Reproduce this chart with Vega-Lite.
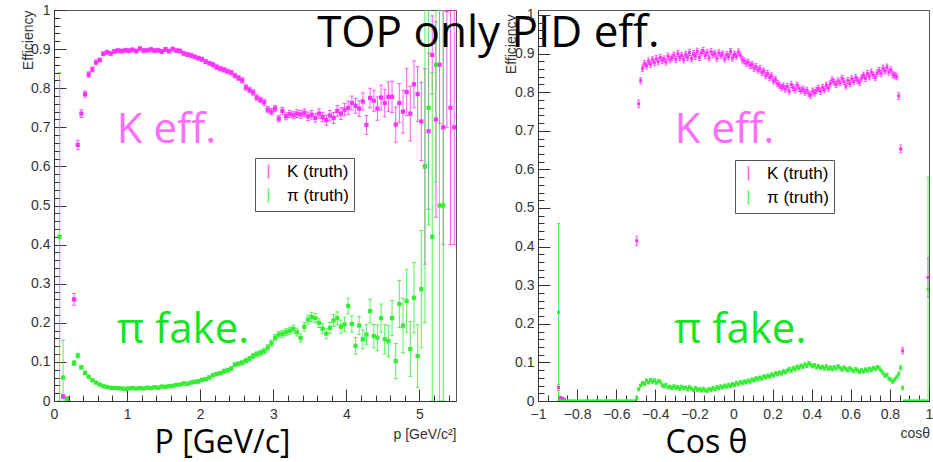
{
"$schema": "https://vega.github.io/schema/vega-lite/v6.json",
"background": "white",
"padding": {"left": 20, "top": 2, "right": 0, "bottom": 12},
"bounds": "flush",
"spacing": 82,
"config": {
  "view": {"stroke": "#555", "strokeWidth": 1},
  "axis": {"labelFont": "Liberation Sans", "labelFontSize": 14, "labelColor": "#333", "tickColor": "#333", "domainColor": "#333", "grid": false, "titleFontWeight": "normal", "titleColor": "#000", "labelFlush": false, "labelOverlap": false}
},
"datasets": {
"lk": [
{"x":0.125,"y":0.012,"e":0.005},{"x":0.175,"y":0.006,"e":0.004},{"x":0.275,"y":0.26,"e":0.015},{"x":0.325,"y":0.655,"e":0.012},{"x":0.375,"y":0.735,"e":0.01},{"x":0.425,"y":0.785,"e":0.008},{"x":0.475,"y":0.835,"e":0.007},{"x":0.525,"y":0.848,"e":0.006},{"x":0.575,"y":0.866,"e":0.006},{"x":0.625,"y":0.872,"e":0.005},{"x":0.675,"y":0.888,"e":0.005},{"x":0.725,"y":0.892,"e":0.005},{"x":0.775,"y":0.889,"e":0.005},{"x":0.825,"y":0.894,"e":0.005},{"x":0.875,"y":0.896,"e":0.005},{"x":0.925,"y":0.895,"e":0.005},{"x":0.975,"y":0.897,"e":0.005},{"x":1.025,"y":0.896,"e":0.005},{"x":1.075,"y":0.898,"e":0.005},{"x":1.125,"y":0.895,"e":0.005},{"x":1.175,"y":0.901,"e":0.005},{"x":1.225,"y":0.896,"e":0.005},{"x":1.275,"y":0.897,"e":0.005},{"x":1.325,"y":0.899,"e":0.005},{"x":1.375,"y":0.896,"e":0.005},{"x":1.425,"y":0.897,"e":0.005},{"x":1.475,"y":0.894,"e":0.005},{"x":1.525,"y":0.899,"e":0.005},{"x":1.575,"y":0.895,"e":0.005},{"x":1.625,"y":0.9,"e":0.005},{"x":1.675,"y":0.896,"e":0.005},{"x":1.725,"y":0.895,"e":0.005},{"x":1.775,"y":0.889,"e":0.005},{"x":1.825,"y":0.886,"e":0.005},{"x":1.875,"y":0.884,"e":0.005},{"x":1.925,"y":0.88,"e":0.005},{"x":1.975,"y":0.877,"e":0.005},{"x":2.025,"y":0.874,"e":0.005},{"x":2.075,"y":0.868,"e":0.005},{"x":2.125,"y":0.864,"e":0.005},{"x":2.175,"y":0.86,"e":0.006},{"x":2.225,"y":0.854,"e":0.006},{"x":2.275,"y":0.85,"e":0.006},{"x":2.325,"y":0.847,"e":0.006},{"x":2.375,"y":0.843,"e":0.006},{"x":2.425,"y":0.84,"e":0.006},{"x":2.475,"y":0.832,"e":0.006},{"x":2.525,"y":0.826,"e":0.006},{"x":2.575,"y":0.82,"e":0.007},{"x":2.625,"y":0.802,"e":0.007},{"x":2.675,"y":0.796,"e":0.007},{"x":2.725,"y":0.789,"e":0.007},{"x":2.775,"y":0.776,"e":0.007},{"x":2.825,"y":0.77,"e":0.007},{"x":2.875,"y":0.764,"e":0.008},{"x":2.925,"y":0.745,"e":0.008},{"x":2.975,"y":0.74,"e":0.008},{"x":3.025,"y":0.748,"e":0.008},{"x":3.075,"y":0.722,"e":0.008},{"x":3.125,"y":0.742,"e":0.009},{"x":3.175,"y":0.728,"e":0.009},{"x":3.225,"y":0.734,"e":0.009},{"x":3.275,"y":0.731,"e":0.009},{"x":3.325,"y":0.735,"e":0.01},{"x":3.375,"y":0.733,"e":0.01},{"x":3.425,"y":0.737,"e":0.01},{"x":3.475,"y":0.728,"e":0.011},{"x":3.525,"y":0.732,"e":0.011},{"x":3.575,"y":0.724,"e":0.011},{"x":3.625,"y":0.735,"e":0.012},{"x":3.675,"y":0.726,"e":0.012},{"x":3.725,"y":0.718,"e":0.013},{"x":3.775,"y":0.73,"e":0.013},{"x":3.825,"y":0.724,"e":0.014},{"x":3.875,"y":0.742,"e":0.014},{"x":3.925,"y":0.735,"e":0.015},{"x":3.975,"y":0.745,"e":0.016},{"x":4.025,"y":0.75,"e":0.017},{"x":4.075,"y":0.762,"e":0.018},{"x":4.125,"y":0.755,"e":0.019},{"x":4.175,"y":0.748,"e":0.02},{"x":4.225,"y":0.766,"e":0.022},{"x":4.275,"y":0.706,"e":0.024},{"x":4.325,"y":0.775,"e":0.025},{"x":4.375,"y":0.768,"e":0.027},{"x":4.425,"y":0.748,"e":0.03},{"x":4.475,"y":0.776,"e":0.032},{"x":4.525,"y":0.762,"e":0.035},{"x":4.575,"y":0.778,"e":0.038},{"x":4.625,"y":0.778,"e":0.04},{"x":4.675,"y":0.707,"e":0.045},{"x":4.725,"y":0.762,"e":0.05},{"x":4.775,"y":0.74,"e":0.055},{"x":4.825,"y":0.79,"e":0.06},{"x":4.875,"y":0.735,"e":0.07},{"x":4.925,"y":0.81,"e":0.06},{"x":4.975,"y":0.785,"e":0.07},{"x":5.025,"y":0.715,"e":0.1},{"x":5.075,"y":0.6,"e":0.25},{"x":5.125,"y":0.69,"e":0.2},{"x":5.175,"y":0.885,"e":0.1},{"x":5.225,"y":0.72,"e":0.25},{"x":5.275,"y":0.86,"e":0.15},{"x":5.325,"y":0.7,"e":0.3},{"x":5.375,"y":1.0,"e":0.3},{"x":5.425,"y":0.75,"e":0.35},{"x":5.475,"y":0.7,"e":0.3}
],
"lp": [
{"x":0.075,"y":0.42,"e":0.42},{"x":0.125,"y":0.06,"e":0.095},{"x":0.175,"y":0.005,"e":0.005},{"x":0.275,"y":0.097,"e":0.006},{"x":0.325,"y":0.116,"e":0.006},{"x":0.375,"y":0.086,"e":0.004},{"x":0.425,"y":0.072,"e":0.004},{"x":0.475,"y":0.062,"e":0.003},{"x":0.525,"y":0.053,"e":0.003},{"x":0.575,"y":0.047,"e":0.003},{"x":0.625,"y":0.042,"e":0.003},{"x":0.675,"y":0.038,"e":0.003},{"x":0.725,"y":0.036,"e":0.003},{"x":0.775,"y":0.034,"e":0.003},{"x":0.825,"y":0.033,"e":0.003},{"x":0.875,"y":0.033,"e":0.003},{"x":0.925,"y":0.032,"e":0.003},{"x":0.975,"y":0.031,"e":0.003},{"x":1.025,"y":0.032,"e":0.003},{"x":1.075,"y":0.033,"e":0.003},{"x":1.125,"y":0.032,"e":0.003},{"x":1.175,"y":0.033,"e":0.003},{"x":1.225,"y":0.032,"e":0.003},{"x":1.275,"y":0.034,"e":0.003},{"x":1.325,"y":0.033,"e":0.003},{"x":1.375,"y":0.035,"e":0.003},{"x":1.425,"y":0.034,"e":0.003},{"x":1.475,"y":0.037,"e":0.003},{"x":1.525,"y":0.036,"e":0.003},{"x":1.575,"y":0.038,"e":0.003},{"x":1.625,"y":0.039,"e":0.003},{"x":1.675,"y":0.041,"e":0.003},{"x":1.725,"y":0.042,"e":0.003},{"x":1.775,"y":0.045,"e":0.004},{"x":1.825,"y":0.044,"e":0.004},{"x":1.875,"y":0.047,"e":0.004},{"x":1.925,"y":0.049,"e":0.004},{"x":1.975,"y":0.05,"e":0.004},{"x":2.025,"y":0.054,"e":0.004},{"x":2.075,"y":0.056,"e":0.004},{"x":2.125,"y":0.06,"e":0.004},{"x":2.175,"y":0.066,"e":0.004},{"x":2.225,"y":0.069,"e":0.004},{"x":2.275,"y":0.071,"e":0.004},{"x":2.325,"y":0.076,"e":0.005},{"x":2.375,"y":0.079,"e":0.005},{"x":2.425,"y":0.083,"e":0.005},{"x":2.475,"y":0.093,"e":0.005},{"x":2.525,"y":0.095,"e":0.005},{"x":2.575,"y":0.098,"e":0.005},{"x":2.625,"y":0.103,"e":0.006},{"x":2.675,"y":0.108,"e":0.006},{"x":2.725,"y":0.115,"e":0.006},{"x":2.775,"y":0.12,"e":0.006},{"x":2.825,"y":0.123,"e":0.007},{"x":2.875,"y":0.128,"e":0.007},{"x":2.925,"y":0.137,"e":0.007},{"x":2.975,"y":0.148,"e":0.008},{"x":3.025,"y":0.162,"e":0.008},{"x":3.075,"y":0.17,"e":0.008},{"x":3.125,"y":0.172,"e":0.009},{"x":3.175,"y":0.176,"e":0.009},{"x":3.225,"y":0.18,"e":0.009},{"x":3.275,"y":0.184,"e":0.01},{"x":3.325,"y":0.176,"e":0.01},{"x":3.375,"y":0.161,"e":0.01},{"x":3.425,"y":0.19,"e":0.011},{"x":3.475,"y":0.208,"e":0.011},{"x":3.525,"y":0.215,"e":0.012},{"x":3.575,"y":0.212,"e":0.012},{"x":3.625,"y":0.2,"e":0.012},{"x":3.675,"y":0.185,"e":0.013},{"x":3.725,"y":0.172,"e":0.013},{"x":3.775,"y":0.187,"e":0.014},{"x":3.825,"y":0.206,"e":0.015},{"x":3.875,"y":0.212,"e":0.016},{"x":3.925,"y":0.19,"e":0.017},{"x":3.975,"y":0.196,"e":0.018},{"x":4.025,"y":0.243,"e":0.02},{"x":4.075,"y":0.197,"e":0.021},{"x":4.125,"y":0.141,"e":0.021},{"x":4.175,"y":0.193,"e":0.023},{"x":4.225,"y":0.158,"e":0.024},{"x":4.275,"y":0.17,"e":0.026},{"x":4.325,"y":0.23,"e":0.03},{"x":4.375,"y":0.166,"e":0.03},{"x":4.425,"y":0.162,"e":0.033},{"x":4.475,"y":0.212,"e":0.036},{"x":4.525,"y":0.158,"e":0.038},{"x":4.575,"y":0.153,"e":0.04},{"x":4.625,"y":0.212,"e":0.045},{"x":4.675,"y":0.102,"e":0.045},{"x":4.725,"y":0.248,"e":0.06},{"x":4.775,"y":0.193,"e":0.07},{"x":4.825,"y":0.256,"e":0.08},{"x":4.875,"y":0.133,"e":0.07},{"x":4.925,"y":0.264,"e":0.09},{"x":4.975,"y":0.115,"e":0.08},{"x":5.025,"y":0.286,"e":0.15},{"x":5.075,"y":0.6,"e":0.4},{"x":5.125,"y":0.75,"e":0.3},{"x":5.175,"y":0.42,"e":0.42},{"x":5.225,"y":0.86,"e":0.3},{"x":5.275,"y":0.5,"e":0.5},{"x":5.325,"y":0.5,"e":0.5}
],
"rk": [
{"x":-0.895,"y":0.035,"e":0.008},{"x":-0.885,"y":0.008,"e":0.004},{"x":-0.875,"y":0.006,"e":0.004},{"x":-0.865,"y":0.004,"e":0.003},
{"x":-0.495,"y":0.415,"e":0.012},{"x":-0.485,"y":0.77,"e":0.01},{"x":-0.475,"y":0.83,"e":0.008},{"x":-0.465,"y":0.862,"e":0.008},{"x":-0.455,"y":0.874,"e":0.008},{"x":-0.445,"y":0.868,"e":0.008},{"x":-0.435,"y":0.88,"e":0.008},{"x":-0.425,"y":0.872,"e":0.008},{"x":-0.415,"y":0.884,"e":0.008},{"x":-0.405,"y":0.876,"e":0.008},{"x":-0.395,"y":0.887,"e":0.008},{"x":-0.385,"y":0.879,"e":0.008},{"x":-0.375,"y":0.89,"e":0.008},{"x":-0.365,"y":0.882,"e":0.008},{"x":-0.355,"y":0.886,"e":0.008},{"x":-0.345,"y":0.878,"e":0.008},{"x":-0.335,"y":0.893,"e":0.008},{"x":-0.325,"y":0.884,"e":0.008},{"x":-0.315,"y":0.889,"e":0.008},{"x":-0.305,"y":0.896,"e":0.008},{"x":-0.295,"y":0.885,"e":0.008},{"x":-0.285,"y":0.9,"e":0.008},{"x":-0.275,"y":0.889,"e":0.008},{"x":-0.265,"y":0.895,"e":0.008},{"x":-0.255,"y":0.884,"e":0.008},{"x":-0.245,"y":0.898,"e":0.008},{"x":-0.235,"y":0.89,"e":0.008},{"x":-0.225,"y":0.903,"e":0.008},{"x":-0.215,"y":0.887,"e":0.008},{"x":-0.205,"y":0.9,"e":0.008},{"x":-0.195,"y":0.893,"e":0.008},{"x":-0.185,"y":0.906,"e":0.008},{"x":-0.175,"y":0.89,"e":0.008},{"x":-0.165,"y":0.902,"e":0.008},{"x":-0.155,"y":0.908,"e":0.008},{"x":-0.145,"y":0.895,"e":0.008},{"x":-0.135,"y":0.903,"e":0.008},{"x":-0.125,"y":0.889,"e":0.008},{"x":-0.115,"y":0.905,"e":0.008},{"x":-0.105,"y":0.897,"e":0.008},{"x":-0.095,"y":0.9,"e":0.008},{"x":-0.085,"y":0.888,"e":0.008},{"x":-0.075,"y":0.902,"e":0.008},{"x":-0.065,"y":0.895,"e":0.008},{"x":-0.055,"y":0.899,"e":0.008},{"x":-0.045,"y":0.886,"e":0.008},{"x":-0.035,"y":0.897,"e":0.008},{"x":-0.025,"y":0.892,"e":0.008},{"x":-0.015,"y":0.905,"e":0.008},{"x":-0.005,"y":0.889,"e":0.008},{"x":0.005,"y":0.898,"e":0.008},{"x":0.015,"y":0.893,"e":0.008},{"x":0.025,"y":0.904,"e":0.008},{"x":0.035,"y":0.896,"e":0.008},{"x":0.045,"y":0.884,"e":0.008},{"x":0.055,"y":0.881,"e":0.008},{"x":0.065,"y":0.875,"e":0.008},{"x":0.075,"y":0.878,"e":0.008},{"x":0.085,"y":0.869,"e":0.008},{"x":0.095,"y":0.872,"e":0.008},{"x":0.105,"y":0.862,"e":0.008},{"x":0.115,"y":0.866,"e":0.008},{"x":0.125,"y":0.857,"e":0.008},{"x":0.135,"y":0.861,"e":0.008},{"x":0.145,"y":0.851,"e":0.008},{"x":0.155,"y":0.855,"e":0.008},{"x":0.165,"y":0.843,"e":0.008},{"x":0.175,"y":0.848,"e":0.008},{"x":0.185,"y":0.838,"e":0.008},{"x":0.195,"y":0.842,"e":0.008},{"x":0.205,"y":0.829,"e":0.008},{"x":0.215,"y":0.833,"e":0.008},{"x":0.225,"y":0.822,"e":0.008},{"x":0.235,"y":0.818,"e":0.008},{"x":0.245,"y":0.812,"e":0.008},{"x":0.255,"y":0.816,"e":0.008},{"x":0.265,"y":0.808,"e":0.008},{"x":0.275,"y":0.815,"e":0.008},{"x":0.285,"y":0.803,"e":0.008},{"x":0.295,"y":0.82,"e":0.008},{"x":0.305,"y":0.812,"e":0.008},{"x":0.315,"y":0.806,"e":0.008},{"x":0.325,"y":0.818,"e":0.008},{"x":0.335,"y":0.81,"e":0.008},{"x":0.345,"y":0.804,"e":0.008},{"x":0.355,"y":0.808,"e":0.008},{"x":0.365,"y":0.8,"e":0.008},{"x":0.375,"y":0.805,"e":0.008},{"x":0.385,"y":0.796,"e":0.008},{"x":0.395,"y":0.792,"e":0.008},{"x":0.405,"y":0.803,"e":0.008},{"x":0.415,"y":0.798,"e":0.008},{"x":0.425,"y":0.805,"e":0.008},{"x":0.435,"y":0.81,"e":0.008},{"x":0.445,"y":0.802,"e":0.008},{"x":0.455,"y":0.812,"e":0.008},{"x":0.465,"y":0.806,"e":0.008},{"x":0.475,"y":0.818,"e":0.008},{"x":0.485,"y":0.81,"e":0.008},{"x":0.495,"y":0.822,"e":0.008},{"x":0.505,"y":0.832,"e":0.008},{"x":0.515,"y":0.826,"e":0.008},{"x":0.525,"y":0.82,"e":0.008},{"x":0.535,"y":0.829,"e":0.008},{"x":0.545,"y":0.824,"e":0.008},{"x":0.555,"y":0.836,"e":0.008},{"x":0.565,"y":0.828,"e":0.008},{"x":0.575,"y":0.816,"e":0.008},{"x":0.585,"y":0.83,"e":0.008},{"x":0.595,"y":0.822,"e":0.008},{"x":0.605,"y":0.835,"e":0.008},{"x":0.615,"y":0.827,"e":0.008},{"x":0.625,"y":0.838,"e":0.008},{"x":0.635,"y":0.83,"e":0.008},{"x":0.645,"y":0.826,"e":0.008},{"x":0.655,"y":0.837,"e":0.008},{"x":0.665,"y":0.844,"e":0.008},{"x":0.675,"y":0.836,"e":0.008},{"x":0.685,"y":0.848,"e":0.008},{"x":0.695,"y":0.84,"e":0.008},{"x":0.705,"y":0.852,"e":0.008},{"x":0.715,"y":0.844,"e":0.008},{"x":0.725,"y":0.838,"e":0.008},{"x":0.735,"y":0.85,"e":0.008},{"x":0.745,"y":0.856,"e":0.008},{"x":0.755,"y":0.848,"e":0.008},{"x":0.765,"y":0.862,"e":0.008},{"x":0.775,"y":0.855,"e":0.008},{"x":0.785,"y":0.865,"e":0.008},{"x":0.795,"y":0.852,"e":0.008},{"x":0.805,"y":0.858,"e":0.008},{"x":0.815,"y":0.846,"e":0.008},{"x":0.825,"y":0.843,"e":0.008},{"x":0.835,"y":0.84,"e":0.008},{"x":0.845,"y":0.79,"e":0.009},{"x":0.855,"y":0.653,"e":0.01},{"x":0.865,"y":0.13,"e":0.008},{"x":0.995,"y":0.32,"e":0.05}
],
"rp": [
{"x":-0.895,"y":0.23,"e":0.23},{"x":-0.885,"y":0,"e":0},{"x":-0.875,"y":0,"e":0},{"x":-0.865,"y":0,"e":0},{"x":-0.855,"y":0,"e":0},{"x":-0.845,"y":0,"e":0},{"x":-0.835,"y":0,"e":0},{"x":-0.825,"y":0,"e":0},{"x":-0.815,"y":0,"e":0},{"x":-0.805,"y":0,"e":0},{"x":-0.795,"y":0,"e":0},{"x":-0.785,"y":0,"e":0},{"x":-0.775,"y":0,"e":0},{"x":-0.765,"y":0,"e":0},{"x":-0.755,"y":0,"e":0},{"x":-0.745,"y":0,"e":0},{"x":-0.735,"y":0,"e":0},{"x":-0.725,"y":0,"e":0},{"x":-0.715,"y":0,"e":0},{"x":-0.705,"y":0,"e":0},{"x":-0.695,"y":0,"e":0},{"x":-0.685,"y":0,"e":0},{"x":-0.675,"y":0,"e":0},{"x":-0.665,"y":0,"e":0},{"x":-0.655,"y":0,"e":0},{"x":-0.645,"y":0,"e":0},{"x":-0.635,"y":0,"e":0},{"x":-0.625,"y":0,"e":0},{"x":-0.615,"y":0,"e":0},{"x":-0.605,"y":0,"e":0},{"x":-0.595,"y":0,"e":0},{"x":-0.585,"y":0,"e":0},{"x":-0.575,"y":0,"e":0},{"x":-0.565,"y":0,"e":0},{"x":-0.555,"y":0,"e":0},{"x":-0.545,"y":0,"e":0},{"x":-0.535,"y":0,"e":0},{"x":-0.525,"y":0,"e":0},{"x":-0.515,"y":0,"e":0},{"x":-0.505,"y":0,"e":0},
{"x":-0.495,"y":0.008,"e":0.004},{"x":-0.485,"y":0.03,"e":0.004},{"x":-0.475,"y":0.04,"e":0.004},{"x":-0.465,"y":0.047,"e":0.004},{"x":-0.455,"y":0.044,"e":0.004},{"x":-0.445,"y":0.053,"e":0.004},{"x":-0.435,"y":0.048,"e":0.004},{"x":-0.425,"y":0.055,"e":0.004},{"x":-0.415,"y":0.05,"e":0.004},{"x":-0.405,"y":0.054,"e":0.004},{"x":-0.395,"y":0.047,"e":0.004},{"x":-0.385,"y":0.052,"e":0.004},{"x":-0.375,"y":0.05,"e":0.004},{"x":-0.365,"y":0.041,"e":0.004},{"x":-0.355,"y":0.038,"e":0.004},{"x":-0.345,"y":0.042,"e":0.004},{"x":-0.335,"y":0.035,"e":0.004},{"x":-0.325,"y":0.037,"e":0.004},{"x":-0.315,"y":0.033,"e":0.004},{"x":-0.305,"y":0.038,"e":0.004},{"x":-0.295,"y":0.034,"e":0.004},{"x":-0.285,"y":0.036,"e":0.004},{"x":-0.275,"y":0.031,"e":0.004},{"x":-0.265,"y":0.037,"e":0.004},{"x":-0.255,"y":0.033,"e":0.004},{"x":-0.245,"y":0.035,"e":0.004},{"x":-0.235,"y":0.03,"e":0.004},{"x":-0.225,"y":0.036,"e":0.004},{"x":-0.215,"y":0.032,"e":0.004},{"x":-0.205,"y":0.028,"e":0.004},{"x":-0.195,"y":0.034,"e":0.004},{"x":-0.185,"y":0.029,"e":0.004},{"x":-0.175,"y":0.031,"e":0.004},{"x":-0.165,"y":0.027,"e":0.004},{"x":-0.155,"y":0.032,"e":0.004},{"x":-0.145,"y":0.028,"e":0.004},{"x":-0.135,"y":0.026,"e":0.004},{"x":-0.125,"y":0.031,"e":0.004},{"x":-0.115,"y":0.029,"e":0.004},{"x":-0.105,"y":0.034,"e":0.004},{"x":-0.095,"y":0.03,"e":0.004},{"x":-0.085,"y":0.036,"e":0.004},{"x":-0.075,"y":0.033,"e":0.004},{"x":-0.065,"y":0.038,"e":0.004},{"x":-0.055,"y":0.035,"e":0.004},{"x":-0.045,"y":0.04,"e":0.004},{"x":-0.035,"y":0.037,"e":0.004},{"x":-0.025,"y":0.042,"e":0.004},{"x":-0.015,"y":0.039,"e":0.004},{"x":-0.005,"y":0.044,"e":0.004},{"x":0.005,"y":0.041,"e":0.004},{"x":0.015,"y":0.047,"e":0.004},{"x":0.025,"y":0.043,"e":0.004},{"x":0.035,"y":0.049,"e":0.004},{"x":0.045,"y":0.046,"e":0.004},{"x":0.055,"y":0.051,"e":0.004},{"x":0.065,"y":0.048,"e":0.004},{"x":0.075,"y":0.053,"e":0.004},{"x":0.085,"y":0.05,"e":0.004},{"x":0.095,"y":0.056,"e":0.004},{"x":0.105,"y":0.053,"e":0.004},{"x":0.115,"y":0.059,"e":0.004},{"x":0.125,"y":0.056,"e":0.004},{"x":0.135,"y":0.061,"e":0.004},{"x":0.145,"y":0.058,"e":0.004},{"x":0.155,"y":0.064,"e":0.004},{"x":0.165,"y":0.061,"e":0.004},{"x":0.175,"y":0.066,"e":0.004},{"x":0.185,"y":0.063,"e":0.004},{"x":0.195,"y":0.069,"e":0.004},{"x":0.205,"y":0.066,"e":0.004},{"x":0.215,"y":0.072,"e":0.004},{"x":0.225,"y":0.069,"e":0.004},{"x":0.235,"y":0.074,"e":0.004},{"x":0.245,"y":0.071,"e":0.004},{"x":0.255,"y":0.077,"e":0.004},{"x":0.265,"y":0.074,"e":0.004},{"x":0.275,"y":0.079,"e":0.004},{"x":0.285,"y":0.083,"e":0.004},{"x":0.295,"y":0.078,"e":0.004},{"x":0.305,"y":0.086,"e":0.004},{"x":0.315,"y":0.082,"e":0.004},{"x":0.325,"y":0.089,"e":0.004},{"x":0.335,"y":0.085,"e":0.004},{"x":0.345,"y":0.092,"e":0.004},{"x":0.355,"y":0.088,"e":0.004},{"x":0.365,"y":0.095,"e":0.004},{"x":0.375,"y":0.091,"e":0.004},{"x":0.385,"y":0.098,"e":0.004},{"x":0.395,"y":0.094,"e":0.004},{"x":0.405,"y":0.09,"e":0.004},{"x":0.415,"y":0.093,"e":0.004},{"x":0.425,"y":0.087,"e":0.004},{"x":0.435,"y":0.091,"e":0.004},{"x":0.445,"y":0.085,"e":0.004},{"x":0.455,"y":0.089,"e":0.004},{"x":0.465,"y":0.084,"e":0.004},{"x":0.475,"y":0.09,"e":0.004},{"x":0.485,"y":0.083,"e":0.004},{"x":0.495,"y":0.087,"e":0.004},{"x":0.505,"y":0.082,"e":0.004},{"x":0.515,"y":0.088,"e":0.004},{"x":0.525,"y":0.084,"e":0.004},{"x":0.535,"y":0.09,"e":0.004},{"x":0.545,"y":0.086,"e":0.004},{"x":0.555,"y":0.081,"e":0.004},{"x":0.565,"y":0.087,"e":0.004},{"x":0.575,"y":0.083,"e":0.004},{"x":0.585,"y":0.079,"e":0.004},{"x":0.595,"y":0.085,"e":0.004},{"x":0.605,"y":0.081,"e":0.004},{"x":0.615,"y":0.077,"e":0.004},{"x":0.625,"y":0.083,"e":0.004},{"x":0.635,"y":0.079,"e":0.004},{"x":0.645,"y":0.075,"e":0.004},{"x":0.655,"y":0.08,"e":0.004},{"x":0.665,"y":0.076,"e":0.004},{"x":0.675,"y":0.082,"e":0.004},{"x":0.685,"y":0.078,"e":0.004},{"x":0.695,"y":0.084,"e":0.004},{"x":0.705,"y":0.08,"e":0.004},{"x":0.715,"y":0.086,"e":0.004},{"x":0.725,"y":0.082,"e":0.004},{"x":0.735,"y":0.088,"e":0.004},{"x":0.745,"y":0.085,"e":0.004},{"x":0.755,"y":0.079,"e":0.004},{"x":0.765,"y":0.072,"e":0.004},{"x":0.775,"y":0.065,"e":0.004},{"x":0.785,"y":0.068,"e":0.004},{"x":0.795,"y":0.058,"e":0.004},{"x":0.805,"y":0.055,"e":0.004},{"x":0.815,"y":0.05,"e":0.004},{"x":0.825,"y":0.056,"e":0.004},{"x":0.835,"y":0.062,"e":0.004},{"x":0.845,"y":0.07,"e":0.005},{"x":0.855,"y":0.086,"e":0.006},{"x":0.865,"y":0.034,"e":0.005},
{"x":0.875,"y":0,"e":0},{"x":0.885,"y":0,"e":0},{"x":0.895,"y":0,"e":0},{"x":0.905,"y":0,"e":0},{"x":0.915,"y":0,"e":0},{"x":0.925,"y":0,"e":0},{"x":0.935,"y":0,"e":0},{"x":0.945,"y":0,"e":0},{"x":0.955,"y":0,"e":0},{"x":0.965,"y":0,"e":0},{"x":0.975,"y":0,"e":0},{"x":0.985,"y":0,"e":0},{"x":0.995,"y":0.29,"e":0.29}
]
},
"hconcat": [
{
  "width": 402,
  "height": 391,
  "layer": [
    {
      "data": {"name": "lk"},
      "mark": {"type": "errorbar", "ticks": {"size": 4}, "clip": true, "opacity": 0.8},
      "encoding": {
        "x": {"field": "x", "type": "quantitative", "scale": {"domain": [0, 5.5], "nice": false, "zero": false},
              "axis": {"orient": "bottom", "values": [0,0.2,0.4,0.6,0.8,1,1.2,1.4,1.6,1.8,2,2.2,2.4,2.6,2.8,3,3.2,3.4,3.6,3.8,4,4.2,4.4,4.6,4.8,5,5.2,5.4], "tickSize": -6, "labels": false, "domain": false,
                       "title": "p  [GeV/c²]", "titleFont": "Liberation Sans", "titleFontSize": 14, "titleColor": "#333", "titleX": 402, "titleY": 37, "titleAlign": "right", "titleBaseline": "alphabetic", "titleAnchor": null}},
        "y": {"field": "y", "type": "quantitative", "scale": {"domain": [0, 1], "nice": false},
              "axis": {"orient": "left", "values": [0,0.02,0.04,0.06,0.08,0.1,0.12,0.14,0.16,0.18,0.2,0.22,0.24,0.26,0.28,0.3,0.32,0.34,0.36,0.38,0.4,0.42,0.44,0.46,0.48,0.5,0.52,0.54,0.56,0.58,0.6,0.62,0.64,0.66,0.68,0.7,0.72,0.74,0.76,0.78,0.8,0.82,0.84,0.86,0.88,0.9,0.92,0.94,0.96,0.98,1], "tickSize": -6, "labels": false, "domain": false,
                       "title": "Efficiency", "titleFont": "Liberation Sans", "titleFontSize": 14, "titleColor": "#333", "titleX": -22, "titleY": 0, "titleAngle": 270, "titleAlign": "right", "titleBaseline": "alphabetic", "titleAnchor": null}},
        "yError": {"field": "e"},
        "color": {"datum": "K (truth)", "scale": {"domain": ["K (truth)", "π (truth)"], "range": ["#ff33ff", "#33ee33"]},
                  "legend": {"orient": "none", "legendX": 201, "legendY": 148, "title": null, "symbolType": "M0,-1L0,1", "symbolSize": 200, "symbolStrokeWidth": 1.5, "labelFont": "Liberation Sans", "labelFontSize": 17, "labelColor": "#000", "padding": 5, "strokeColor": "#555", "fillColor": "#ffffff", "rowPadding": 3, "labelOffset": 10}}
      }
    },
    {
      "data": {"name": "lp"},
      "mark": {"type": "errorbar", "ticks": {"size": 4}, "clip": true, "opacity": 0.8},
      "encoding": {
        "x": {"field": "x", "type": "quantitative", "scale": {"domain": [0, 5.5], "nice": false, "zero": false}, "axis": null},
        "y": {"field": "y", "type": "quantitative", "scale": {"domain": [0, 1], "nice": false}, "axis": null},
        "yError": {"field": "e"},
        "color": {"datum": "π (truth)", "legend": null}
      }
    },
    {
      "data": {"name": "lk"},
      "mark": {"type": "square", "size": 18, "opacity": 1, "clip": true},
      "encoding": {
        "x": {"field": "x", "type": "quantitative", "scale": {"domain": [0, 5.5], "nice": false, "zero": false},
              "axis": {"orient": "bottom", "values": [0,1,2,3,4,5], "format": "~g", "tickSize": -12, "labelPadding": 18,
                       "title": "P [GeV/c]", "titleFont": "Open Sans", "titleFontSize": 32, "titleX": 168, "titleY": 51, "titleAlign": "center", "titleBaseline": "alphabetic", "titleAnchor": null}},
        "y": {"field": "y", "type": "quantitative", "scale": {"domain": [0, 1], "nice": false},
              "axis": {"orient": "left", "values": [0,0.1,0.2,0.3,0.4,0.5,0.6,0.7,0.8,0.9,1], "format": "~g", "tickSize": -12, "labelPadding": 16, "title": null}},
        "color": {"datum": "K (truth)", "legend": null}
      }
    },
    {
      "data": {"name": "lp"},
      "mark": {"type": "square", "size": 18, "opacity": 1, "clip": true},
      "encoding": {
        "x": {"field": "x", "type": "quantitative", "scale": {"domain": [0, 5.5], "nice": false, "zero": false}, "axis": null},
        "y": {"field": "y", "type": "quantitative", "scale": {"domain": [0, 1], "nice": false}, "axis": null},
        "color": {"datum": "π (truth)", "legend": null}
      }
    },
    {
      "data": {"values": [{"x": 0.86, "y": 0.66, "t": "K eff."}]},
      "mark": {"type": "text", "font": "Open Sans", "fontSize": 42, "color": "#ff6cff", "align": "left", "baseline": "alphabetic"},
      "encoding": {
        "x": {"field": "x", "type": "quantitative", "scale": {"domain": [0, 5.5], "nice": false, "zero": false}, "axis": null},
        "y": {"field": "y", "type": "quantitative", "scale": {"domain": [0, 1], "nice": false}, "axis": null},
        "text": {"field": "t"}
      }
    },
    {
      "data": {"values": [{"x": 0.86, "y": 0.148, "t": "π fake."}]},
      "mark": {"type": "text", "font": "Open Sans", "fontSize": 42, "color": "#11e622", "align": "left", "baseline": "alphabetic"},
      "encoding": {
        "x": {"field": "x", "type": "quantitative", "scale": {"domain": [0, 5.5], "nice": false, "zero": false}, "axis": null},
        "y": {"field": "y", "type": "quantitative", "scale": {"domain": [0, 1], "nice": false}, "axis": null},
        "text": {"field": "t"}
      }
    },
    {
      "data": {"values": [{"x": 3.6, "y": 0.906, "t": "TOP only PID eff."}]},
      "mark": {"type": "text", "font": "Open Sans", "fontSize": 44, "color": "#000000", "align": "left", "baseline": "alphabetic"},
      "encoding": {
        "x": {"field": "x", "type": "quantitative", "scale": {"domain": [0, 5.5], "nice": false, "zero": false}, "axis": null},
        "y": {"field": "y", "type": "quantitative", "scale": {"domain": [0, 1], "nice": false}, "axis": null},
        "text": {"field": "t"}
      }
    }
  ],
  "resolve": {"axis": {"x": "independent", "y": "independent"}}
},
{
  "width": 391,
  "height": 391,
  "layer": [
    {
      "data": {"name": "rk"},
      "mark": {"type": "errorbar", "ticks": {"size": 3}, "clip": true, "opacity": 0.8},
      "encoding": {
        "x": {"field": "x", "type": "quantitative", "scale": {"domain": [-1, 1], "nice": false, "zero": false},
              "axis": {"orient": "bottom", "values": [-1,-0.95,-0.9,-0.85,-0.8,-0.75,-0.7,-0.65,-0.6,-0.55,-0.5,-0.45,-0.4,-0.35,-0.3,-0.25,-0.2,-0.15,-0.1,-0.05,0,0.05,0.1,0.15,0.2,0.25,0.3,0.35,0.4,0.45,0.5,0.55,0.6,0.65,0.7,0.75,0.8,0.85,0.9,0.95,1], "tickSize": -6, "labels": false, "domain": false,
                       "title": "cosθ", "titleFont": "Liberation Sans", "titleFontSize": 14, "titleColor": "#333", "titleX": 362, "titleY": 36, "titleAlign": "left", "titleBaseline": "alphabetic", "titleAnchor": null}},
        "y": {"field": "y", "type": "quantitative", "scale": {"domain": [0, 1.01295], "nice": false},
              "axis": {"orient": "left", "values": [0,0.02,0.04,0.06,0.08,0.1,0.12,0.14,0.16,0.18,0.2,0.22,0.24,0.26,0.28,0.3,0.32,0.34,0.36,0.38,0.4,0.42,0.44,0.46,0.48,0.5,0.52,0.54,0.56,0.58,0.6,0.62,0.64,0.66,0.68,0.7,0.72,0.74,0.76,0.78,0.8,0.82,0.84,0.86,0.88,0.9,0.92,0.94,0.96,0.98,1], "tickSize": -6, "labels": false, "domain": false,
                       "title": "Efficiency", "titleFont": "Liberation Sans", "titleFontSize": 14, "titleColor": "#333", "titleX": -23, "titleY": 4, "titleAngle": 270, "titleAlign": "right", "titleBaseline": "alphabetic", "titleAnchor": null}},
        "yError": {"field": "e"},
        "color": {"datum": "K (truth)", "scale": {"domain": ["K (truth)", "π (truth)"], "range": ["#ff33ff", "#33ee33"]},
                  "legend": {"orient": "none", "legendX": 197, "legendY": 150, "title": null, "symbolType": "M0,-1L0,1", "symbolSize": 200, "symbolStrokeWidth": 1.5, "symbolStrokeColor": "#8a8ae0", "labelFont": "Liberation Sans", "labelFontSize": 17, "labelColor": "#000", "padding": 5, "strokeColor": "#555", "fillColor": "#ffffff", "rowPadding": 3, "labelOffset": 10}}
      }
    },
    {
      "data": {"name": "rp"},
      "mark": {"type": "errorbar", "ticks": {"size": 3}, "clip": true, "opacity": 0.8},
      "encoding": {
        "x": {"field": "x", "type": "quantitative", "scale": {"domain": [-1, 1], "nice": false, "zero": false}, "axis": null},
        "y": {"field": "y", "type": "quantitative", "scale": {"domain": [0, 1.01295], "nice": false}, "axis": null},
        "yError": {"field": "e"},
        "color": {"datum": "π (truth)", "legend": null}
      }
    },
    {
      "data": {"name": "rk"},
      "mark": {"type": "square", "size": 9, "opacity": 1, "clip": true},
      "encoding": {
        "x": {"field": "x", "type": "quantitative", "scale": {"domain": [-1, 1], "nice": false, "zero": false},
              "axis": {"orient": "bottom", "values": [-1,-0.8,-0.6,-0.4,-0.2,0,0.2,0.4,0.6,0.8,1], "format": "~g", "tickSize": -12, "labelPadding": 18,
                       "title": "Cos θ", "titleFont": "Open Sans", "titleFontSize": 32, "titleX": 168, "titleY": 51, "titleAlign": "center", "titleBaseline": "alphabetic", "titleAnchor": null}},
        "y": {"field": "y", "type": "quantitative", "scale": {"domain": [0, 1.01295], "nice": false},
              "axis": {"orient": "left", "values": [0,0.1,0.2,0.3,0.4,0.5,0.6,0.7,0.8,0.9,1], "format": "~g", "tickSize": -12, "labelPadding": 16, "title": null}},
        "color": {"datum": "K (truth)", "legend": null}
      }
    },
    {
      "data": {"name": "rp"},
      "mark": {"type": "square", "size": 9, "opacity": 1, "clip": true},
      "encoding": {
        "x": {"field": "x", "type": "quantitative", "scale": {"domain": [-1, 1], "nice": false, "zero": false}, "axis": null},
        "y": {"field": "y", "type": "quantitative", "scale": {"domain": [0, 1.01295], "nice": false}, "axis": null},
        "color": {"datum": "π (truth)", "legend": null}
      }
    },
    {
      "data": {"values": [{"x": -0.3, "y": 0.668, "t": "K eff."}]},
      "mark": {"type": "text", "font": "Open Sans", "fontSize": 42, "color": "#ff6cff", "align": "left", "baseline": "alphabetic"},
      "encoding": {
        "x": {"field": "x", "type": "quantitative", "scale": {"domain": [-1, 1], "nice": false, "zero": false}, "axis": null},
        "y": {"field": "y", "type": "quantitative", "scale": {"domain": [0, 1.01295], "nice": false}, "axis": null},
        "text": {"field": "t"}
      }
    },
    {
      "data": {"values": [{"x": -0.304, "y": 0.15, "t": "π fake."}]},
      "mark": {"type": "text", "font": "Open Sans", "fontSize": 42, "color": "#11e622", "align": "left", "baseline": "alphabetic"},
      "encoding": {
        "x": {"field": "x", "type": "quantitative", "scale": {"domain": [-1, 1], "nice": false, "zero": false}, "axis": null},
        "y": {"field": "y", "type": "quantitative", "scale": {"domain": [0, 1.01295], "nice": false}, "axis": null},
        "text": {"field": "t"}
      }
    }
  ],
  "resolve": {"axis": {"x": "independent", "y": "independent"}}
}
],
"resolve": {"scale": {"color": "independent"}, "legend": {"color": "independent"}}
}
